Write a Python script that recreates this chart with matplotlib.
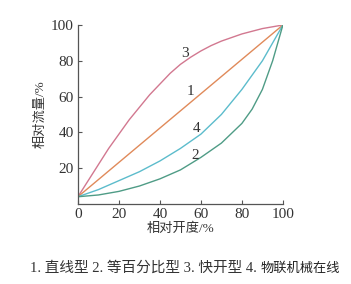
import matplotlib
matplotlib.use("Agg")
import matplotlib.pyplot as plt

plt.rcParams['font.family'] = ['Liberation Serif', 'Noto Sans CJK SC', 'DejaVu Sans']

# Data
x_lin = [0, 100]
y_lin = [4, 100]

x_quick = [0, 5, 10, 15, 20, 25, 30, 35, 40, 45, 50, 55, 60, 65, 70, 80, 90, 100]
y_quick = [4, 13, 22, 31, 39, 47, 54, 61, 67, 73, 78, 82, 85.5, 88.5, 91, 95, 98, 100]

x_para = [0, 10, 20, 30, 40, 50, 60, 70, 80, 90, 95, 100]
y_para = [4, 8, 13, 18, 24, 31, 39, 50, 64, 80, 90, 100]

x_eq = [0, 10, 20, 30, 40, 50, 60, 70, 80, 85, 90, 95, 100]
y_eq = [4, 5, 7, 10, 14, 19, 26, 34, 45, 53, 64, 80, 100]

xticks = [0, 20, 40, 60, 80, 100]
yticks = [20, 40, 60, 80, 100]

curve_labels = ["1", "2", "3", "4"]
label_pos = {"1": (55, 63), "2": (57, 27), "3": (52, 84), "4": (58, 42)}

c_lin = "#e08a5a"
c_quick = "#d27890"
c_para = "#5cbccc"
c_eq = "#4f9c86"
axc = "#555555"
txt = "#333333"

fig = plt.figure(figsize=(3.51, 2.84), dpi=100)
ax = fig.add_axes([0.222, 0.282, 0.584, 0.63])

ax.plot(x_quick, y_quick, color=c_quick, lw=1.0)
ax.plot(x_lin, y_lin, color=c_lin, lw=1.0)
ax.plot(x_para, y_para, color=c_para, lw=1.0)
ax.plot(x_eq, y_eq, color=c_eq, lw=1.0)

for k in curve_labels:
    px, py = label_pos[k]
    ax.text(px, py, k, fontsize=11, color=txt, ha='center', va='center')

ax.set_xlim(0, 100)
ax.set_ylim(0, 100)
ax.set_xticks(xticks)
ax.set_yticks(yticks)
ax.set_xticklabels([str(v) for v in xticks])
ax.set_yticklabels([str(v) for v in yticks])
for s in ['top', 'right']:
    ax.spines[s].set_visible(False)
for s in ['left', 'bottom']:
    ax.spines[s].set_color(axc)
    ax.spines[s].set_linewidth(0.9)
ax.tick_params(direction='in', length=3, width=0.8, color=axc, labelcolor=txt, labelsize=11, pad=3)

ax.set_xlabel("相对开度/%", fontsize=9.5, color=txt, labelpad=1)
ax.set_ylabel("相对流量/%", fontsize=9.5, color=txt, labelpad=3)

fig.text(0.085, 0.055, "1. 直线型 2. 等百分比型 3. 快开型 4. ", fontsize=10.5, color=txt,
         ha='left', va='center')
fig.text(0.97, 0.055, "物联机械在线", fontsize=9.5, color="#222222", ha='right', va='center',
         family=['Noto Sans CJK SC'])

fig.savefig("out.png", dpi=100, facecolor='white')
